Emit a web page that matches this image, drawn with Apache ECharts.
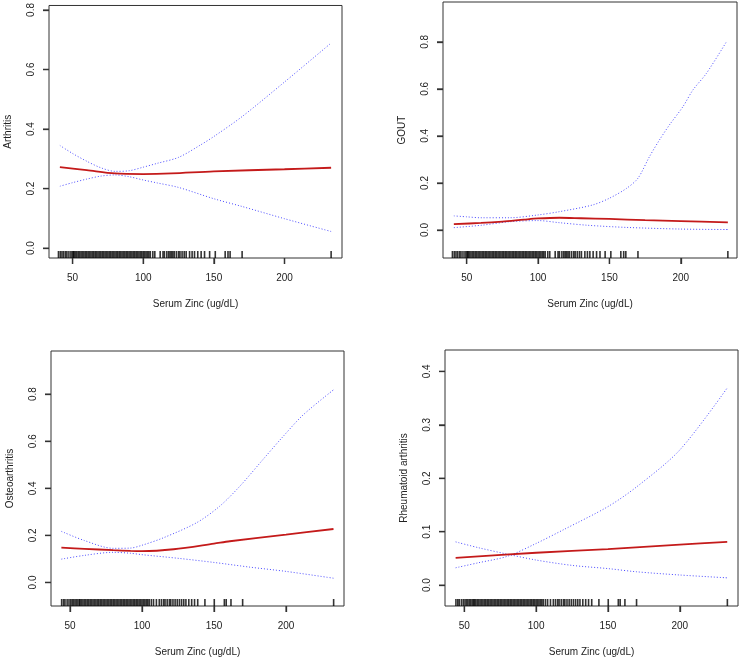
<!DOCTYPE html>
<html>
<head>
<meta charset="utf-8">
<script src="https://cdn.jsdelivr.net/npm/echarts@6/dist/echarts.min.js"></script>
<style>
html,body{margin:0;padding:0;background:#fff;}
#chart{width:740px;height:658px;}
</style>
</head>
<body>
<div id="chart"></div>
<script>
// ---------- data ----------
var xTicks = [50, 100, 150, 200];
var xAxisTitle = 'Serum Zinc (ug/dL)';
var panelTitles = ['Arthritis', 'GOUT', 'Osteoarthritis', 'Rheumatoid arthritis'];
var yTicks1 = [0, 0.2, 0.4, 0.6, 0.8];
var yTicks2 = [0, 0.2, 0.4, 0.6, 0.8];
var yTicks3 = [0, 0.2, 0.4, 0.6, 0.8];
var yTicks4 = [0, 0.1, 0.2, 0.3, 0.4];

// Arthritis
var arthFit   = [[41,0.272],[60,0.262],[80,0.251],[100,0.249],[120,0.251],[150,0.258],[200,0.265],[233,0.270]];
var arthUpper = [[41,0.345],[50,0.318],[60,0.292],[70,0.270],[80,0.258],[90,0.260],[100,0.272],[110,0.285],[125,0.305],[140,0.345],[150,0.375],[170,0.442],[200,0.558],[233,0.689]];
var arthLower = [[41,0.208],[50,0.220],[60,0.232],[70,0.242],[80,0.246],[90,0.240],[100,0.229],[110,0.219],[125,0.204],[150,0.166],[170,0.140],[200,0.099],[233,0.056]];

// GOUT
var goutFit   = [[41,0.025],[60,0.030],[75,0.036],[90,0.044],[100,0.049],[115,0.052],[130,0.050],[150,0.047],[175,0.042],[200,0.038],[233,0.032]];
var goutUpper = [[41,0.060],[50,0.056],[60,0.052],[80,0.052],[100,0.064],[115,0.078],[138,0.106],[150,0.135],[162,0.177],[170,0.220],[178,0.311],[185,0.382],[192,0.446],[201.5,0.524],[208.5,0.595],[218,0.666],[232,0.800]];
var goutLower = [[41,0.010],[60,0.020],[80,0.035],[100,0.040],[115,0.031],[135,0.020],[162,0.011],[200,0.004],[233,0.002]];

// Osteoarthritis
var osteoFit   = [[44,0.148],[60,0.143],[80,0.137],[92,0.134],[100,0.133],[122,0.141],[150,0.165],[161,0.175],[200,0.203],[233,0.227]];
var osteoUpper = [[44,0.217],[60,0.178],[80,0.145],[92,0.146],[100,0.158],[115,0.190],[138,0.254],[154,0.324],[168,0.409],[184,0.522],[198,0.620],[212,0.712],[233,0.818]];
var osteoLower = [[44,0.099],[60,0.115],[80,0.128],[92,0.124],[100,0.118],[126,0.102],[150,0.085],[175,0.065],[200,0.047],[233,0.018]];

// Rheumatoid arthritis
var rheuFit   = [[44,0.0512],[100,0.0606],[150,0.0675],[200,0.0760],[233,0.0810]];
var rheuUpper = [[44,0.0325],[60,0.042],[80,0.054],[100,0.078],[120,0.105],[150,0.147],[170,0.184],[200,0.253],[233,0.369]];
var rheuLower = [[44,0.081],[60,0.070],[80,0.058],[100,0.047],[125,0.037],[150,0.031],[170,0.025],[200,0.019],[233,0.0137]];

// rug (observed serum zinc values)
var rugA = [40,41.3,42.5,43.7,45,46,47.4,48.8,49.8,50.7,
  51,52,53,54,55,56,57,58,59,60,61,62,63,64,65,66,67,68,69,70,
  71,72,73,74,75,76,77,78,79,80,81,82,83,84,85,86,87,88,89,90,
  91,92,93,94,95,96,97,98,99,100,101,102,103,104,105,
  106.8,108.2,112,114,115,116.7,118,119,120,121,122,123.5,125,126,127.5,129,130.4,
  132.8,134.6,136.3,138.6,141,143.4,147,151,158,160,161.5,170,233];
var rugB = [44.2,45.5,46.5,48,49.3,50.5,51.5,52.5,53.5,54.5,55.5,56.5,
  57,58,59,60,61,62,63,64,65,66,67,68,69,70,
  71,72,73,74,75,76,77,78,79,80,81,82,83,84,85,86,87,88,89,90,
  91,92,93,94,95,96,97,98,99,100,101,102,103,104,105,
  106.5,108,110,112,113.5,115,116,117.5,119,120,121.5,123,124.5,126,127.5,129,130.5,
  132.5,134.5,136.5,138.7,143.7,150.2,157.2,158.5,161.8,169.9,233.1];

// ---------- layout ----------
var grids = [
  {left:49,  top:3,   width:293, height:255},
  {left:443, top:2,   width:294, height:256},
  {left:51,  top:351, width:293, height:256},
  {left:445, top:350, width:293, height:256}
];
var xRanges = [[33.3,240.7],[33.4,239.4],[36.8,240.3],[36.6,240.5]];
var yRanges = [[-0.033,0.815],[-0.119,0.969],[-0.100,0.983],[-0.039,0.440]];
var yTickSets = [yTicks1, yTicks2, yTicks3, yTicks4];
var fits = [arthFit, goutFit, osteoFit, rheuFit];
var uppers = [arthUpper, goutUpper, osteoUpper, rheuUpper];
var lowers = [arthLower, goutLower, osteoLower, rheuLower];
var rugs = [rugA, rugA, rugB, rugB];

var FONT = 'Liberation Sans, Arial, Helvetica, sans-serif';
var txtColor = '#222';
var boxColor = '#333';
var TICK = 6;

var option = {animation:false, grid:[], xAxis:[], yAxis:[], series:[]};

for (var i = 0; i < 4; i++) {
  option.grid.push({left:grids[i].left, top:grids[i].top, width:grids[i].width, height:grids[i].height,
    show:true, borderColor:boxColor, borderWidth:1});
  option.xAxis.push({
    type:'value', gridIndex:i, min:xRanges[i][0], max:xRanges[i][1],
    name: xAxisTitle, nameLocation:'middle', nameGap:41,
    nameTextStyle:{fontSize:10, color:txtColor, fontFamily:FONT},
    axisLine:{show:false, onZero:false},
    axisTick:{show:true, length:TICK, customValues:xTicks, lineStyle:{color:boxColor, width:1.3}},
    axisLabel:{show:true, customValues:xTicks, margin:15, fontSize:10, color:txtColor, fontFamily:FONT},
    splitLine:{show:false}
  });
  option.yAxis.push({
    type:'value', gridIndex:i, min:yRanges[i][0], max:yRanges[i][1],
    name: panelTitles[i], nameLocation:'middle', nameGap:36, nameRotate:90,
    nameTextStyle:{fontSize:10, color:txtColor, fontFamily:FONT},
    axisLine:{show:false, onZero:false},
    axisTick:{show:true, length:TICK, customValues:yTickSets[i], lineStyle:{color:boxColor, width:1.3}},
    axisLabel:{show:true, customValues:yTickSets[i], rotate:90, margin:13, fontSize:10, color:txtColor, fontFamily:FONT,
      formatter:function(v){return Number(v).toFixed(1);}},
    splitLine:{show:false}
  });
  var xMin = xRanges[i][0], yMin = yRanges[i][0];
  // tick marks at the tick values, placed through the axis scales
  option.series.push({
    type:'scatter', xAxisIndex:i, yAxisIndex:i, clip:false, silent:true,
    data: xTicks.map(function(t){ return [t, yMin]; }),
    symbol:'rect', symbolSize:[1.3, TICK], symbolOffset:[0, TICK/2], itemStyle:{color:boxColor}
  });
  option.series.push({
    type:'scatter', xAxisIndex:i, yAxisIndex:i, clip:false, silent:true,
    data: yTickSets[i].map(function(t){ return [xMin, t]; }),
    symbol:'rect', symbolSize:[TICK, 1.3], symbolOffset:[-TICK/2, 0], itemStyle:{color:boxColor}
  });
  // rug
  option.series.push({
    type:'scatter', xAxisIndex:i, yAxisIndex:i, data:rugs[i].map(function(x){ return [x, yMin]; }), symbol:'rect',
    symbolSize:[1.6,7], symbolOffset:[0,-3.5], itemStyle:{color:'#000'}, clip:false, silent:true
  });
  [uppers[i], lowers[i]].forEach(function(d){
    option.series.push({
      type:'line', xAxisIndex:i, yAxisIndex:i, data:d, smooth:0.3, symbol:'none', silent:true,
      lineStyle:{color:'#4a4aff', width:1, type:[1,2]}
    });
  });
  option.series.push({
    type:'line', xAxisIndex:i, yAxisIndex:i, data:fits[i], smooth:0.3, symbol:'none', silent:true,
    lineStyle:{color:'#c41a1a', width:1.8}
  });
}

var chart = echarts.init(document.getElementById('chart'), null, {renderer:'canvas'});
chart.setOption(option);
</script>
</body>
</html>
